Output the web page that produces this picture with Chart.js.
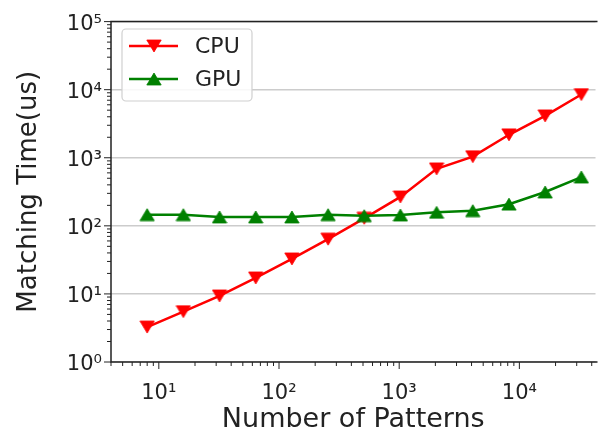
<!DOCTYPE html>
<html><head><meta charset="utf-8">
<script src="https://cdn.jsdelivr.net/npm/chart.js@4.4.0/dist/chart.umd.min.js"></script>
<style>html,body{margin:0;padding:0;background:#fff;overflow:hidden;width:605px;height:440px}canvas{display:block}</style>
</head><body>
<canvas id="c" width="605" height="440"></canvas>
<script>
// ---- data ----
const patternCounts = [8, 16, 32, 64, 128, 256, 512, 1024, 2048, 4096, 8192, 16384, 32768];
const cpuTimes = [3.26, 5.5, 9.35, 17.2, 32.7, 63.7, 129, 266, 687, 1038, 2176, 4130, 8490];
const gpuTimes = [146, 146, 135, 135, 135, 146, 141, 144, 158, 167, 208, 314, 521];
const seriesLabels = ['CPU', 'GPU'];
const seriesColors = ['#ff0000', '#008000'];
const xDecades = [1, 10, 100, 1000, 10000];
const yDecades = [1, 10, 100, 1000, 10000, 100000];
const xTitle = 'Number of Patterns';
const yTitle = 'Matching Time(us)';
const xRange = [4, 43000];
const yRange = [1, 100000];

// ---- helpers ----
const SUP = {'0':'\u2070','1':'\u00b9','2':'\u00b2','3':'\u00b3','4':'\u2074','5':'\u2075','6':'\u2076','7':'\u2077','8':'\u2078','9':'\u2079','-':'\u207b'};
function isMajor(v){ const l = Math.log10(v); return Math.abs(l - Math.round(l)) < 1e-9; }
function supLabel(v){ const e = String(Math.round(Math.log10(v))); return '10' + e.split('').map(ch => SUP[ch]).join(''); }
function logTicks(decades, lo, hi){
  const out = [];
  decades.forEach(d => { for (let m = 1; m <= 9; m++){ const v = d*m; if (v >= lo - 1e-9 && v <= hi + 1e-9) out.push({value: v}); } });
  return out;
}
function makeTriangle(color, down){
  const c = document.createElement('canvas'); c.width = 16; c.height = 14;
  const g = c.getContext('2d'); g.fillStyle = color; g.strokeStyle = color; g.lineWidth = 0.8;
  g.beginPath();
  if (down){ g.moveTo(0.8, 1); g.lineTo(15.2, 1); g.lineTo(8, 13); }
  else { g.moveTo(8, 1); g.lineTo(15.2, 13); g.lineTo(0.8, 13); }
  g.closePath(); g.fill(); g.stroke();
  return c;
}

const FONT = 'DejaVu Sans';
const TXT = '#222';

const frameTicks = {
  id: 'frameTicks',
  afterDatasetsDraw(chart){
    const {ctx, chartArea: a, scales: {x, y}} = chart;
    ctx.save();
    ctx.strokeStyle = '#222'; ctx.lineWidth = 1;
    x.ticks.forEach(t => {
      const px = x.getPixelForValue(t.value); const len = isMajor(t.value) ? 7 : 4;
      ctx.beginPath(); ctx.moveTo(px, a.bottom); ctx.lineTo(px, a.bottom + len); ctx.stroke();
    });
    y.ticks.forEach(t => {
      const py = y.getPixelForValue(t.value); const len = isMajor(t.value) ? 7 : 4;
      ctx.beginPath(); ctx.moveTo(a.left, py); ctx.lineTo(a.left - len, py); ctx.stroke();
    });
    ctx.lineWidth = 1.5;
    ctx.beginPath();
    ctx.moveTo(a.right + 2, a.top); ctx.lineTo(a.left, a.top); ctx.lineTo(a.left, a.bottom); ctx.lineTo(a.right + 2, a.bottom);
    ctx.stroke();
    ctx.restore();
  },
  afterDraw(chart){
    const ctx = chart.ctx;
    ctx.save();
    const bx = 122, by = 29, bw = 130, bh = 72, r = 4;
    ctx.beginPath();
    ctx.moveTo(bx + r, by); ctx.lineTo(bx + bw - r, by); ctx.arcTo(bx + bw, by, bx + bw, by + r, r);
    ctx.lineTo(bx + bw, by + bh - r); ctx.arcTo(bx + bw, by + bh, bx + bw - r, by + bh, r);
    ctx.lineTo(bx + r, by + bh); ctx.arcTo(bx, by + bh, bx, by + bh - r, r);
    ctx.lineTo(bx, by + r); ctx.arcTo(bx, by, bx + r, by, r); ctx.closePath();
    ctx.fillStyle = 'rgba(255,255,255,0.85)'; ctx.fill();
    ctx.strokeStyle = '#d0d0d0'; ctx.lineWidth = 1.2; ctx.stroke();
    chart.data.datasets.forEach((ds, i) => {
      const yy = 46 + i * 33;
      ctx.strokeStyle = ds.borderColor; ctx.lineWidth = ds.borderWidth;
      ctx.beginPath(); ctx.moveTo(129, yy); ctx.lineTo(178, yy); ctx.stroke();
      const img = ds.pointStyle;
      ctx.drawImage(img, 154 - img.width / 2, yy - img.height / 2);
      ctx.fillStyle = TXT; ctx.font = '22px "' + FONT + '"'; ctx.textBaseline = 'middle'; ctx.textAlign = 'left';
      ctx.fillText(ds.label, 195, yy + 1);
    });
    ctx.restore();
  }
};

const cpuPoints = patternCounts.map((n, i) => ({x: n, y: cpuTimes[i]}));
const gpuPoints = patternCounts.map((n, i) => ({x: n, y: gpuTimes[i]}));

new Chart(document.getElementById('c'), {
  type: 'line',
  data: {
    datasets: [
      {label: seriesLabels[0], data: cpuPoints, borderColor: seriesColors[0], backgroundColor: seriesColors[0], borderWidth: 2.5,
       pointStyle: makeTriangle(seriesColors[0], true), pointRadius: 7, order: 1, tension: 0},
      {label: seriesLabels[1], data: gpuPoints, borderColor: seriesColors[1], backgroundColor: seriesColors[1], borderWidth: 2.5,
       pointStyle: makeTriangle(seriesColors[1], false), pointRadius: 7, order: 0, tension: 0}
    ]
  },
  options: {
    responsive: false, animation: false, devicePixelRatio: 1,
    layout: {padding: {top: 16, right: 0, left: 0, bottom: 0}},
    plugins: {legend: {display: false}, tooltip: {enabled: false}},
    scales: {
      x: {
        type: 'logarithmic', min: xRange[0], max: xRange[1],
        afterBuildTicks: s => { s.ticks = logTicks(xDecades, xRange[0], xRange[1]); },
        afterFit: s => { s.height = 78; },
        grid: {display: false},
        border: {display: false},
        ticks: {autoSkip: false, maxRotation: 0, minRotation: 0, padding: 11, color: TXT,
          font: {family: FONT, size: 21}, callback: v => isMajor(v) ? supLabel(v) : ''},
        title: {display: true, text: xTitle, color: TXT, font: {family: FONT, size: 27}, padding: {top: 0, bottom: 4}}
      },
      y: {
        type: 'logarithmic', min: yRange[0], max: yRange[1],
        afterBuildTicks: s => { s.ticks = logTicks(yDecades, yRange[0], yRange[1]); },
        afterFit: s => { s.width = 111; },
        grid: {drawTicks: false, lineWidth: 1.6, color: c => (c.tick && isMajor(c.tick.value)) ? '#cccccc' : 'rgba(0,0,0,0)'},
        border: {display: false},
        ticks: {autoSkip: false, padding: 9, labelOffset: 3, color: TXT,
          font: {family: FONT, size: 21}, callback: v => isMajor(v) ? supLabel(v) : ''},
        title: {display: true, text: yTitle, color: TXT, font: {family: FONT, size: 26}, padding: {top: 14, bottom: 0}}
      }
    }
  },
  plugins: [frameTicks]
});
</script>
</body></html>
